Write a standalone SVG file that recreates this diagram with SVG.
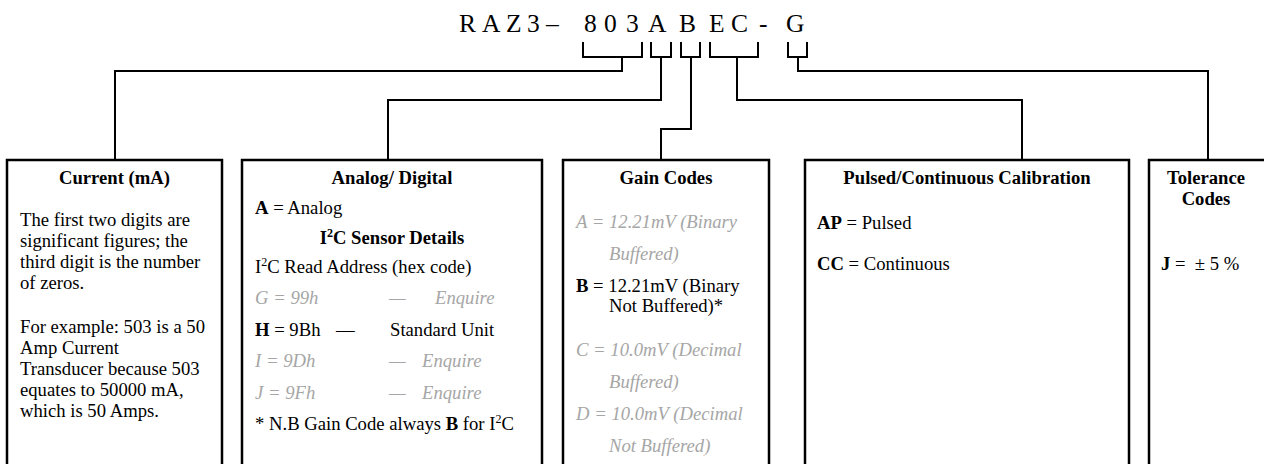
<svg xmlns="http://www.w3.org/2000/svg" width="1264" height="464" viewBox="0 0 1264 464">
<style>
text{font-family:"Liberation Serif","Times New Roman",serif;font-size:18.67px;fill:#000}
.box{fill:#fff;stroke:#000;stroke-width:2.5}
.ln{fill:none;stroke:#000;stroke-width:2}
.t{font-weight:bold;text-anchor:middle}
.g{fill:#a6a6a6;font-style:italic}
.b{font-weight:bold}
.code{font-size:25.5px}
</style>
<rect width="1264" height="464" fill="#fff"/>
<g id="part-number">
<text class="code" y="32" x="459 476 482 500 506 522 527 540 546 560 584 597 604 617 626 639 648 666 679 696 709 725 731 748 759 768 786">R A Z 3 – 8 0 3 A B E C - G</text>
</g>
<g id="connectors">
<path class="ln" d="M583,42 V57 H642 V42"/>
<path class="ln" d="M651,42 V57 H671 V42"/>
<path class="ln" d="M681,42 V57 H700 V42"/>
<path class="ln" d="M710,42 V57 H758 V42"/>
<path class="ln" d="M788,42 V57 H807 V42"/>
<path class="ln" d="M622,57 V71 H115 V160"/>
<path class="ln" d="M661,57 V100 H388 V160"/>
<path class="ln" d="M691,57 V129 H661 V160"/>
<path class="ln" d="M737,57 V100 H1022 V160"/>
<path class="ln" d="M798,57 V71 H1208 V160"/>
</g>
<g id="current">
<rect class="box" x="7" y="160" width="215" height="320"/>
<text class="t" x="114.5" y="184">Current (mA)</text>
<text x="20" y="226">The first two digits are</text>
<text x="20" y="247">significant figures; the</text>
<text x="20" y="268">third digit is the number</text>
<text x="20" y="289">of zeros.</text>
<text x="20" y="333">For example: 503 is a 50</text>
<text x="20" y="354">Amp Current</text>
<text x="20" y="375">Transducer because 503</text>
<text x="20" y="396">equates to 50000 mA,</text>
<text x="20" y="417">which is 50 Amps.</text>
</g>
<g id="analog-digital">
<rect class="box" x="242" y="160" width="300" height="320"/>
<text class="t" x="392" y="184">Analog/ Digital</text>
<text x="255" y="214"><tspan class="b">A</tspan> = Analog</text>
<text class="t" x="392" y="244">I<tspan font-size="12" dy="-7">2</tspan><tspan dy="7">C Sensor Details</tspan></text>
<text x="255" y="273">I<tspan font-size="12" dy="-7">2</tspan><tspan dy="7">C Read Address (hex code)</tspan></text>
<text class="g" x="255" y="304">G = 99h</text>
<text class="g" x="389" y="304">—</text>
<text class="g" x="435" y="304">Enquire</text>
<text x="255" y="336"><tspan class="b">H</tspan> = 9Bh</text>
<text x="336" y="336">—</text>
<text x="390" y="336">Standard Unit</text>
<text class="g" x="255" y="367">I = 9Dh</text>
<text class="g" x="389" y="367">—</text>
<text class="g" x="422" y="367">Enquire</text>
<text class="g" x="255" y="399">J = 9Fh</text>
<text class="g" x="389" y="399">—</text>
<text class="g" x="422" y="399">Enquire</text>
<text x="255" y="430">* N.B Gain Code always <tspan class="b">B</tspan> for I<tspan font-size="12" dy="-7">2</tspan><tspan dy="7">C</tspan></text>
</g>
<g id="gain-codes">
<rect class="box" x="563" y="160" width="206" height="320"/>
<text class="t" x="666" y="184">Gain Codes</text>
<text class="g" x="576" y="228">A = 12.21mV (Binary</text>
<text class="g" x="609" y="260">Buffered)</text>
<text x="576" y="292"><tspan class="b">B</tspan> = 12.21mV (Binary</text>
<text x="609" y="312">Not Buffered)*</text>
<text class="g" x="576" y="356">C = 10.0mV (Decimal</text>
<text class="g" x="609" y="388">Buffered)</text>
<text class="g" x="576" y="420">D = 10.0mV (Decimal</text>
<text class="g" x="609" y="452">Not Buffered)</text>
</g>
<g id="calibration">
<rect class="box" x="805" y="160" width="324" height="320"/>
<text class="t" x="967" y="184">Pulsed/Continuous Calibration</text>
<text x="817" y="229"><tspan class="b">AP</tspan> = Pulsed</text>
<text x="817" y="270"><tspan class="b">CC</tspan> = Continuous</text>
</g>
<g id="tolerance">
<rect class="box" x="1149" y="160" width="200" height="320"/>
<text class="t" x="1206" y="184">Tolerance</text>
<text class="t" x="1206" y="205">Codes</text>
<text x="1161" y="270" xml:space="preserve"><tspan class="b">J</tspan> =  ± 5 %</text>
</g>
</svg>
